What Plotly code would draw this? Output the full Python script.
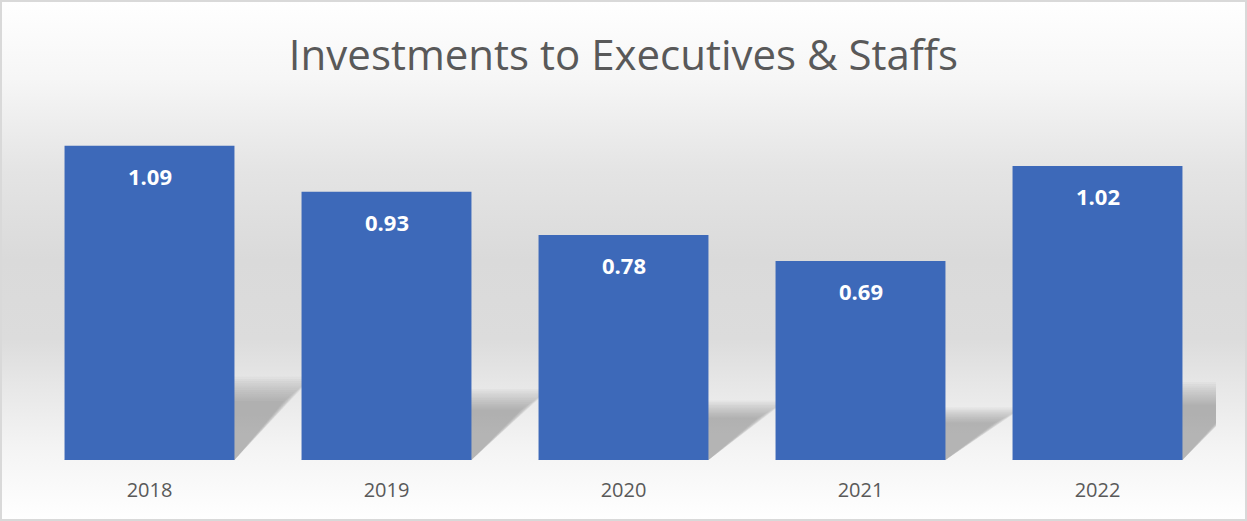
import base64
import plotly.graph_objects as go

years = ["2018", "2019", "2020", "2021", "2022"]
values = [1.09, 0.93, 0.78, 0.69, 1.02]
title_text = "Investments to Executives & Staffs"

W, H = 1247, 521
ML, MR, MT, MB = 31, 31, 114, 61
PW, PH = W - ML - MR, H - MT - MB

BAR_COLOR = "#3d69b9"
TEXT_GREY = "#595959"

svg = f'''<svg xmlns="http://www.w3.org/2000/svg" width="{W}" height="{H}" viewBox="0 0 {W} {H}">
<defs><linearGradient id="g" x1="0" y1="0" x2="0" y2="1">
<stop offset="0" stop-color="#ffffff"/>
<stop offset="0.15" stop-color="#f6f6f6"/>
<stop offset="0.33" stop-color="#e4e4e4"/>
<stop offset="0.5" stop-color="#dadada"/>
<stop offset="0.65" stop-color="#dcdcdc"/>
<stop offset="0.74" stop-color="#e7e7e7"/>
<stop offset="0.86" stop-color="#f4f4f4"/>
<stop offset="1" stop-color="#ffffff"/>
</linearGradient></defs>
<rect x="0" y="0" width="{W}" height="{H}" fill="url(#g)"/>
<rect x="1" y="1" width="{W-2}" height="{H-2}" fill="none" stroke="#d9d9d9" stroke-width="2"/>
</svg>'''
bg_src = "data:image/svg+xml;base64," + base64.b64encode(svg.encode()).decode()

idx = list(range(len(years)))

fig = go.Figure()
fig.add_trace(go.Bar(
    x=idx, y=values, width=0.717,
    marker=dict(color=BAR_COLOR, line=dict(width=0)),
    customdata=years,
    hovertemplate="%{customdata}: %{y}<extra></extra>",
))

# soft perspective shadows derived from the values (layered for blur)
half = 0.3585
shapes = []
for i, v in zip(idx, values):
    for k in range(12):
        h = (0.265 - 0.007 * k) * v
        shift = 0.33 - 0.011 * k
        path = (f"M {i-half},0 L {i+half},0 L {i+half+shift},{h} "
                f"L {i-half+shift},{h} Z")
        shapes.append(dict(type="path", xref="x", yref="y", path=path,
                           fillcolor="rgba(110,110,110,0.05)",
                           line=dict(width=0), layer="below"))

annotations = []
for i, v in zip(idx, values):
    annotations.append(dict(
        x=i, y=v, xref="x", yref="y", text=f"<b>{v:.2f}</b>",
        showarrow=False, yshift=-30,
        font=dict(family="Open Sans", size=22, color="white"),
    ))

fig.update_layout(
    width=W, height=H,
    margin=dict(l=ML, r=MR, t=MT, b=MB, pad=0),
    paper_bgcolor="white",
    plot_bgcolor="rgba(0,0,0,0)",
    showlegend=False,
    title=dict(text=title_text, x=0.5, xanchor="center", xref="paper",
               y=1 - 55 / H, yanchor="middle", yref="container",
               font=dict(family="Open Sans", size=42, color=TEXT_GREY)),
    xaxis=dict(range=[-0.5, len(years) - 0.5], tickmode="array",
               tickvals=idx, ticktext=years,
               showgrid=False, showline=False, zeroline=False, ticks="",
               tickfont=dict(family="Open Sans", size=20, color=TEXT_GREY),
               ticklabelstandoff=16),
    yaxis=dict(range=[0, 1.2], visible=False, showgrid=False, zeroline=False),
    shapes=shapes,
    annotations=annotations,
    images=[dict(source=bg_src, xref="paper", yref="paper",
                 x=-ML / PW, y=1 + MT / PH, sizex=W / PW, sizey=H / PH,
                 xanchor="left", yanchor="top", sizing="stretch",
                 layer="below")],
)

fig.write_html("out.html",
               config={"displayModeBar": False},
               post_script="document.body.style.margin='0';"
                           "document.body.style.overflow='hidden';")
